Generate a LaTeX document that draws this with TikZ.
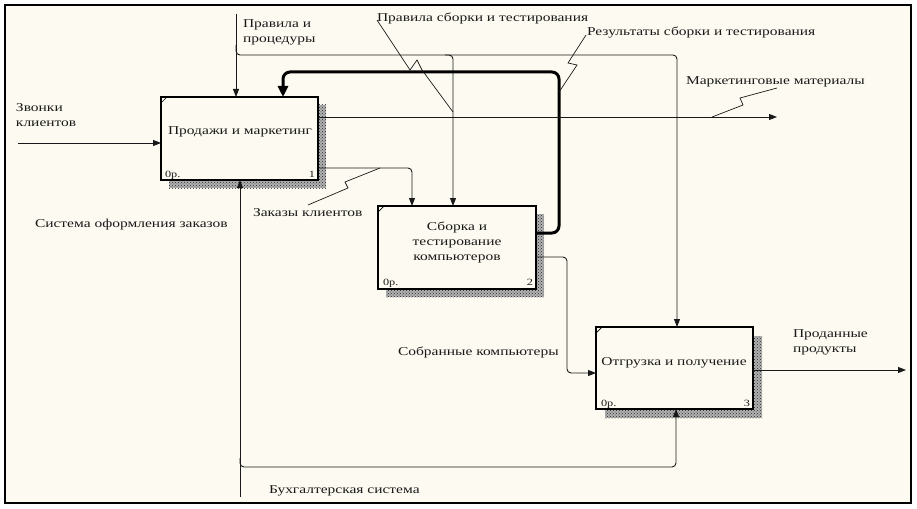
\documentclass[tikz,border=0pt]{standalone}
\usepackage{fontspec}
\setmainfont{Liberation Serif}[FakeStretch=1.29]
\usetikzlibrary{arrows.meta,patterns}
\definecolor{paper}{RGB}{253,251,241}
\definecolor{ink}{RGB}{25,25,25}
\tikzset{
  lbl/.style={inner sep=0pt, outer sep=0pt, text=ink, font=\fontsize{12}{15}\selectfont},
  small/.style={inner sep=0pt, outer sep=0pt, text=ink, font=\fontsize{9.5}{10}\selectfont},
  box/.style={draw=black, line width=1.3pt, fill=paper, inner sep=0pt, outer sep=0pt, anchor=north west},
  shadowbase/.style={fill=black!30},
  shadow/.style={pattern=crosshatch dots, pattern color=black!85},
  flow/.style={draw=ink, line width=0.9pt, rounded corners=4pt, -{Triangle[length=8pt,width=6pt]}},
  bold/.style={draw=black, line width=3pt, rounded corners=7pt, -{Triangle[length=11pt,width=10pt]}},
  squig/.style={draw=ink, line width=0.7pt},
  tick/.style={draw=black, line width=0.7pt}
}
\begin{document}
\begin{tikzpicture}[x=1pt,y=-1pt]
\useasboundingbox (0,0) rectangle (917,508);
\fill[white] (0,0) rectangle (917,508);
\draw[line width=1.5pt, fill=paper] (5,5) rectangle (911,503);

% shadows
\fill[shadowbase] (169,105) rectangle (326,188);
\fill[shadow] (169,105) rectangle (326,188);
\fill[shadowbase] (386,214) rectangle (544,297);
\fill[shadow] (386,214) rectangle (544,297);
\fill[shadowbase] (605,336) rectangle (762,418);
\fill[shadow] (605,336) rectangle (762,418);

% boxes
\node[box, minimum width=157pt, minimum height=83pt] (b1) at (161,97) {};
\node[box, minimum width=158pt, minimum height=83pt] (b2) at (378,206) {};
\node[box, minimum width=157pt, minimum height=82pt] (b3) at (596,327) {};

\draw[tick] (b1.north west) ++(0,6) -- ++(6,-6);
\draw[tick] (b2.north west) ++(0,6) -- ++(6,-6);
\draw[tick] (b3.north west) ++(0,6) -- ++(6,-6);

\node[lbl] (t1) at (240,132) {Продажи и маркетинг};
\node[lbl, align=center] (t2) at (457,242) {Сборка и\\тестирование\\компьютеров};
\node[lbl] (t3) at (674,363) {Отгрузка и получение};

\node[small, anchor=base west] (o1) at (165,177) {0р.};
\node[small, anchor=base east] (n1) at (315,177) {1};
\node[small, anchor=base west] (o2) at (383,285) {0р.};
\node[small, anchor=base east] (n2) at (533,285) {2};
\node[small, anchor=base west] (o3) at (601,406) {0р.};
\node[small, anchor=base east] (n3) at (750,406) {3};

% coordinates
\coordinate (zv) at (18,143);
\coordinate (prTop) at (236,14);
\coordinate (prBr) at (236,45);
\coordinate (c3) at (677,55);
\coordinate (c2a) at (445,55);
\coordinate (c2) at (453,55);
\coordinate (rs) at (536,233);
\coordinate (r1) at (559,72);
\coordinate (r2) at (283,72);
\coordinate (mkEnd) at (777,117);
\coordinate (zk) at (412,168);
\coordinate (sb) at (240,497);
\coordinate (bkStart) at (240,458);
\coordinate (bk) at (676,467);
\coordinate (sk) at (567,257);
\coordinate (sk2) at (567,373);
\coordinate (pd) at (906,370);

% connectors
\draw[flow] (zv) -- (zv -| b1.west);
\draw[flow] (prTop) -- (prTop |- b1.north);
\draw[flow] (prBr) |- (c3) -- (c3 |- b3.north);
\draw[flow] (c2a) -| (c2 |- b2.north);
\draw[bold] (rs) -| (r1) -- (r2) -- (r2 |- b1.north);
\draw[flow] (b1.east |- mkEnd) -- (mkEnd);
\draw[flow] (b1.east |- zk) -| (zk |- b2.north);
\draw[flow] (sb) -- (sb |- b1.south);
\draw[flow] (bkStart) |- (bk) -- (bk |- b3.south);
\draw[flow] (b2.east |- sk) -- (sk) -- (sk2) -- (sk2 -| b3.west);
\draw[flow] (b3.east |- pd) -- (pd);

% labels
\node[lbl, anchor=west, align=left] (lzv) at (16,115.5) {Звонки\\клиентов};
\node[lbl, anchor=west, align=left] (lpr) at (243,32.5) {Правила и\\процедуры};
\node[lbl, anchor=west] (lps) at (377,18) {Правила сборки и тестирования};
\node[lbl, anchor=west] (lrs) at (587,33) {Результаты сборки и тестирования};
\node[lbl, anchor=west] (lmk) at (686,82) {Маркетинговые материалы};
\node[lbl, anchor=west] (lzk) at (253,213) {Заказы клиентов};
\node[lbl, anchor=west] (lso) at (35,225) {Система оформления заказов};
\node[lbl, anchor=west] (lsk) at (398,352) {Собранные компьютеры};
\node[lbl, anchor=west, align=left] (lpd) at (793,342.5) {Проданные\\продукты};
\node[lbl, anchor=west] (lbk) at (269,491) {Бухгалтерская система};

% squiggles
\draw[squig] (377,20) -- (410,70) -- (417,60) -- (422,70) -- (c2 |- 0,112);
\draw[squig] (r1 |- 0,92) -- (577,65) -- (568,63) -- (586,35);
\draw[squig] (712,117) -- (743,105) -- (740,98) -- (777,88);
\draw[squig] (308,205) -- (348,188) -- (345,182) -- (zk -| 380,0);
\end{tikzpicture}
\end{document}
